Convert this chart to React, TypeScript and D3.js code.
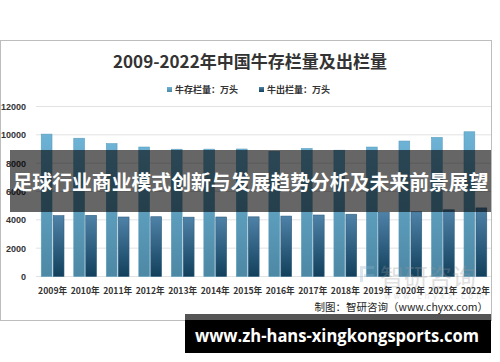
import { useEffect } from "react";
import * as d3 from "d3";

const years = [
  "2009年", "2010年", "2011年", "2012年", "2013年", "2014年", "2015年",
  "2016年", "2017年", "2018年", "2019年", "2020年", "2021年", "2022年",
];
const stockValues = [10050, 9760, 9380, 9140, 8985, 8990, 9000, 8834, 9039, 8915, 9138, 9562, 9817, 10216];
const outValues = [4292, 4318, 4200, 4219, 4189, 4200, 4211, 4265, 4340, 4397, 4534, 4565, 4707, 4840];
const seriesNames = ["牛存栏量：万头", "牛出栏量：万头"];
const yTicks = [0, 2000, 4000, 6000, 8000, 10000, 12000];

const cjk = "'Noto Sans CJK SC', 'Noto Sans', sans-serif";

export default function App() {
  useEffect(() => {
    document.body.style.margin = "0";
  }, []);

  const width = 500;
  const height = 362;
  const left = 37;
  const right = 491;

  const x = d3
    .scaleBand<string>()
    .domain(years)
    .range([left, right])
    .paddingInner(0.3)
    .paddingOuter(0.13);
  const x1 = d3
    .scaleBand<string>()
    .domain(seriesNames)
    .range([0, x.bandwidth()])
    .paddingInner(0.1);
  const y = d3.scaleLinear().domain([0, 12000]).range([276.5, 106.5]);

  const series = [stockValues, outValues];

  return (
    <svg width={width} height={height} style={{ display: "block" }}>
      <defs>
        <linearGradient id="gStock" x1="0" y1="0" x2="0" y2="1">
          <stop offset="0%" stopColor="#6db3d6" />
          <stop offset="100%" stopColor="#4d88a4" />
        </linearGradient>
        <linearGradient id="gOut" x1="0" y1="0" x2="0" y2="1">
          <stop offset="0%" stopColor="#4f82a8" />
          <stop offset="100%" stopColor="#12405c" />
        </linearGradient>
      </defs>
      <rect x={0} y={0} width={width} height={height} fill="#fff" />
      <rect x={0.5} y={40.5} width={491} height={280} fill="#fff" stroke="#bdbdbd" />

      <text x={250} y={68} textAnchor="middle" fontFamily={cjk} fontWeight="bold" fontSize={16.5} fill="#333"
        textLength={274} lengthAdjust="spacingAndGlyphs">
        2009-2022年中国牛存栏量及出栏量
      </text>

      {/* legend */}
      {seriesNames.map((s, i) => (
        <g key={s} transform={`translate(${167 + i * 92},90)`}>
          <rect x={0} y={-3} width={5} height={5} fill={i === 0 ? "url(#gStock)" : "url(#gOut)"} />
          <text x={8} y={3} fontFamily={cjk} fontWeight="bold" fontSize={9} fill="#333">{s}</text>
        </g>
      ))}

      {/* grid + y labels */}
      {yTicks.map((t) => (
        <g key={t}>
          <line x1={36} x2={right} y1={y(t)} y2={y(t)} stroke="#e2e2e2" strokeWidth={1} />
          <text x={26} y={y(t) + 3.5} textAnchor="end" fontFamily="'Liberation Sans', Arial, sans-serif" fontWeight="bold" fontSize={9} fill="#333">
            {t}
          </text>
        </g>
      ))}

      {/* bars */}
      {years.map((yr, i) => (
        <g key={yr} transform={`translate(${x(yr)},0)`}>
          {series.map((vals, j) => (
            <rect
              key={j}
              x={x1(seriesNames[j])}
              y={y(vals[i])}
              width={x1.bandwidth()}
              height={y(0) - y(vals[i])}
              fill={j === 0 ? "url(#gStock)" : "url(#gOut)"}
              stroke={j === 0 ? "#5d9dbd" : "#2f5f80"}
              strokeWidth={0.6}
            />
          ))}
        </g>
      ))}

      {/* watermark */}
      <g opacity={0.3}>
        <rect x={360} y={266} width={14} height={3} fill="#8fb0c8" />
        <rect x={360} y={266} width={3} height={16} fill="#8fb0c8" />
        <rect x={364} y={274} width={10} height={3} fill="#8fb0c8" />
        <text x={380} y={286} fontFamily={cjk} fontSize={24} fill="#999">智研咨询</text>
        <text x={384} y={299} fontFamily="'DejaVu Sans', sans-serif" fontSize={8} fill="#aaa"
          textLength={100} lengthAdjust="spacing">www.chyxx.com</text>
      </g>

      {years.map((yr) => (
        <text
          key={yr}
          x={(x(yr) ?? 0) + x.bandwidth() / 2}
          y={294}
          textAnchor="middle"
          fontFamily={cjk}
          fontWeight="bold"
          fontSize={9}
          fill="#333"
          textLength={29}
          lengthAdjust="spacingAndGlyphs"
        >
          {yr}
        </text>
      ))}

      <text x={488} y={311} textAnchor="end" fontFamily={cjk} fontSize={10.5} fill="#222">
        制图：智研咨询（www.chyxx.com）
      </text>

      {/* overlay banner */}
      <rect x={10} y={150} width={481} height={62} fill="rgba(0,0,0,0.6)" />
      <text x={250.5} y={190} textAnchor="middle" fontFamily={cjk} fontWeight="bold" fontSize={20} fill="#fff"
        textLength={476} lengthAdjust="spacingAndGlyphs">
        足球行业商业模式创新与发展趋势分析及未来前景展望
      </text>

      {/* bottom banner */}
      <rect x={185} y={314} width={306} height={6} fill="#555" />
      <rect x={185} y={320} width={306} height={33} fill="#000" />
      <text x={337} y={342} textAnchor="middle" fontFamily="'Open Sans', 'DejaVu Sans', sans-serif" fontWeight="bold" fontSize={17} fill="#fff"
        textLength={284} lengthAdjust="spacingAndGlyphs">
        www.zh-hans-xingkongsports.com
      </text>
    </svg>
  );
}
